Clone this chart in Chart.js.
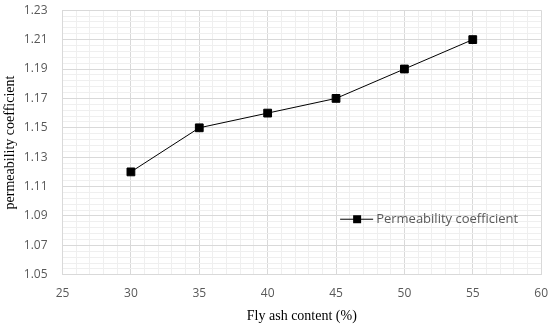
<!DOCTYPE html>
<html>
<head>
<meta charset="utf-8">
<script src="https://cdn.jsdelivr.net/npm/chart.js@4/dist/chart.umd.min.js"></script>
<style>
  html, body { margin: 0; padding: 0; background: #fff; }
  #wrap { width: 550px; height: 325px; }
</style>
</head>
<body>
<div id="wrap"><canvas id="chart"></canvas></div>
<script>
// data
var flyAsh = [30, 35, 40, 45, 50, 55];
var permeability = [1.12, 1.15, 1.16, 1.17, 1.19, 1.21];
var seriesName = 'Permeability coefficient';
var xTitle = 'Fly ash content (%)';
var yTitle = 'permeability coefficient';

// legend drawn inside the plot area, like the original
var insideLegend = {
    id: 'insideLegend',
    afterDraw: function (chart) {
        var ctx = chart.ctx;
        var area = chart.chartArea;
        var x0 = area.left + (area.right - area.left) * 0.58;
        var y0 = area.top + (area.bottom - area.top) * 0.79;
        ctx.save();
        ctx.strokeStyle = '#000';
        ctx.lineWidth = 1;
        ctx.beginPath();
        ctx.moveTo(x0, y0);
        ctx.lineTo(x0 + 33, y0);
        ctx.stroke();
        ctx.fillStyle = '#000';
        ctx.fillRect(x0 + 13, y0 - 4, 8, 8);
        ctx.fillStyle = '#595959';
        ctx.font = '13px "Open Sans", sans-serif';
        ctx.textBaseline = 'middle';
        ctx.fillText(seriesName, x0 + 36, y0);
        ctx.restore();
    }
};

var points = [];
for (var i = 0; i < flyAsh.length; i++) {
    points.push({ x: flyAsh[i], y: permeability[i] });
}

var clear = 'rgba(0,0,0,0)';

new Chart(document.getElementById('chart'), {
    type: 'line',
    data: {
        datasets: [{
            label: seriesName,
            data: points,
            borderColor: '#000',
            backgroundColor: '#000',
            borderWidth: 1,
            pointStyle: 'rect',
            pointRadius: 5.5,
            pointHoverRadius: 5.5,
            tension: 0
        }]
    },
    options: {
        responsive: true,
        maintainAspectRatio: false,
        animation: false,
        layout: { padding: { top: 0, right: 1, left: 0, bottom: 0 } },
        plugins: {
            legend: { display: false },
            tooltip: { enabled: false }
        },
        scales: {
            x: {
                type: 'linear',
                min: 25,
                max: 60,
                ticks: {
                    stepSize: 1,
                    autoSkip: false,
                    maxRotation: 0,
                    color: '#595959',
                    font: { family: '"Open Sans", sans-serif', size: 12 },
                    padding: 2,
                    callback: function (v) { return v % 5 === 0 ? v : ''; }
                },
                grid: {
                    drawTicks: true,
                    tickLength: 10,
                    tickColor: clear,
                    color: function (c) { return c.tick && c.tick.value % 5 === 0 ? '#d9d9d9' : '#efefef'; },
                    lineWidth: 1
                },
                border: { color: '#d9d9d9' },
                title: {
                    display: true,
                    text: xTitle,
                    color: '#000',
                    font: { family: '"Liberation Serif", serif', size: 14 },
                    padding: { top: 5, bottom: 0 }
                }
            },
            y: {
                min: 1.05,
                max: 1.23,
                ticks: {
                    stepSize: 0.004,
                    autoSkip: false,
                    color: '#595959',
                    font: { family: '"Open Sans", sans-serif', size: 12 },
                    padding: 3,
                    callback: function (v) {
                        var k = Math.round(v * 1000);
                        return k % 20 === 10 ? (k / 1000).toFixed(2) : '';
                    }
                },
                grid: {
                    drawTicks: true,
                    tickLength: 12,
                    tickColor: clear,
                    color: function (c) {
                        if (!c.tick) return '#efefef';
                        var k = Math.round(c.tick.value * 1000);
                        return k % 20 === 10 ? '#d9d9d9' : '#efefef';
                    },
                    lineWidth: 1
                },
                border: { color: '#d9d9d9' },
                title: {
                    display: true,
                    text: yTitle,
                    color: '#000',
                    font: { family: '"Liberation Serif", serif', size: 14 },
                    padding: { top: 2, bottom: 2 }
                }
            }
        }
    },
    plugins: [insideLegend]
});
</script>
</body>
</html>
